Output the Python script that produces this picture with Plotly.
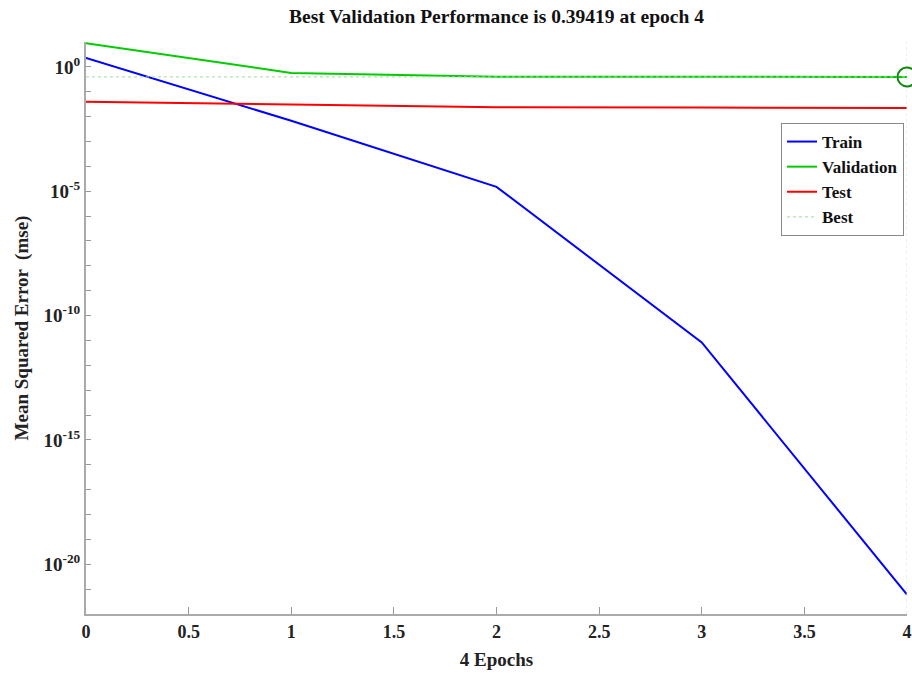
import plotly.graph_objects as go

epochs = [0, 1, 2, 3, 4]
train_mse = [2.3, 6.8e-3, 1.5e-5, 8.3e-12, 6.0e-22]
val_mse = [9.0, 0.57, 0.40, 0.395, 0.39419]
test_mse = [0.040, 0.031, 0.024, 0.023, 0.022]
best_epoch = 4
best_val = 0.39419

x_ticks = [0, 0.5, 1, 1.5, 2, 2.5, 3, 3.5, 4]
x_tick_text = ["0", "0.5", "1", "1.5", "2", "2.5", "3", "3.5", "4"]
y_exps = list(range(-22, 2))
y_tick_vals = [10.0 ** e for e in y_exps]
y_tick_text = [f"10<sup>{e}</sup>" if e % 5 == 0 else "" for e in y_exps]

FONT = "Liberation Serif"

fig = go.Figure()
fig.add_trace(go.Scatter(x=epochs, y=train_mse, mode="lines", name="<b>Train</b>",
                         line=dict(color="#0000ff", width=2)))
fig.add_trace(go.Scatter(x=epochs, y=val_mse, mode="lines", name="<b>Validation</b>",
                         line=dict(color="#00cc00", width=2)))
fig.add_trace(go.Scatter(x=epochs, y=test_mse, mode="lines", name="<b>Test</b>",
                         line=dict(color="#ff0000", width=2)))
fig.add_trace(go.Scatter(x=[0, 4], y=[best_val, best_val], mode="lines", name="<b>Best</b>",
                         line=dict(color="#9fdc9f", width=1, dash="dot")))
fig.add_trace(go.Scatter(x=[best_epoch, best_epoch], y=[1e-22, 10], mode="lines",
                         showlegend=False, line=dict(color="#c8ecc8", width=1, dash="dot")))
fig.add_trace(go.Scatter(x=[best_epoch], y=[best_val], mode="markers", showlegend=False,
                         cliponaxis=False,
                         marker=dict(symbol="circle-open", size=19, color="#118811",
                                     line=dict(color="#118811", width=2))))

fig.update_layout(
    width=912, height=682,
    margin=dict(l=86, r=5, t=42, b=68),
    paper_bgcolor="white", plot_bgcolor="white",
    font=dict(family=FONT, size=17, color="#222222"),
    title=dict(text="<b>Best Validation Performance is 0.39419 at epoch 4</b>",
               x=(86 + 907) / 2 / 912, xanchor="center", y=1 - 16 / 682, yanchor="middle",
               font=dict(family=FONT, size=19.5, color="#111111")),
    xaxis=dict(range=[0, 4], tickvals=x_ticks, ticktext=[f"<b>{t}</b>" for t in x_tick_text],
               ticks="inside", ticklen=7, tickcolor="#999999", showline=True,
               linecolor="#aaaaaa", linewidth=2, showgrid=False, zeroline=False,
               automargin=False,
               title=dict(text="<b>4 Epochs</b>", font=dict(size=19), standoff=12),
               tickfont=dict(size=18)),
    yaxis=dict(type="log", range=[-22, 1], tickvals=y_tick_vals,
               ticktext=[f"<b>{t}</b>" if t else "" for t in y_tick_text],
               ticks="inside", ticklen=5, tickcolor="#999999", showline=True,
               linecolor="#aaaaaa", linewidth=2, showgrid=False, zeroline=False,
               automargin=False,
               title=dict(text="<b>Mean Squared Error  (mse)</b>", font=dict(size=19), standoff=10),
               tickfont=dict(size=19)),
    legend=dict(x=(904 - 86) / 821, xanchor="right", y=(614 - 123) / 572, yanchor="top",
                bordercolor="#888888", borderwidth=1, bgcolor="white",
                font=dict(size=17, color="#111111"), tracegroupgap=0,
                itemwidth=30),
    showlegend=True,
)

fig.write_html("out.html")
